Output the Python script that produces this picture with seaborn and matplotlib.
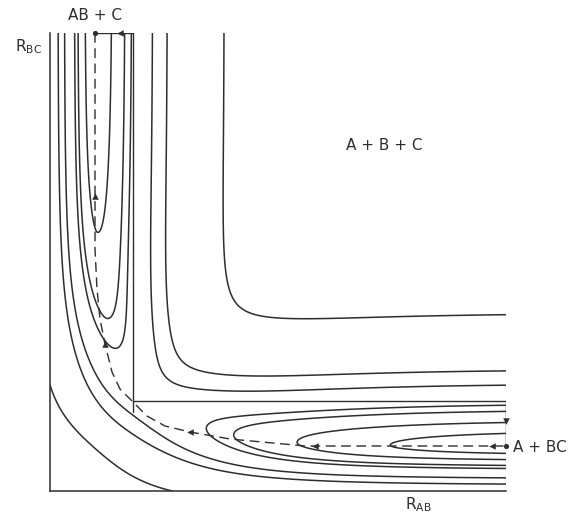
import numpy as np
import pandas as pd
import matplotlib
matplotlib.use("Agg")
import matplotlib.pyplot as plt
import seaborn as sns

# model surface, plot units (1 unit = 100 px of the original figure)
x_e, y_e = 0.45, 0.45            # AB / BC bond lengths at the valley floors
D_ab, D_bc = 0.975, 1.0          # AB + C valley is slightly shallower
a_out, w_in = 1.0, 0.66          # Morse range on the open side, width of the inner wall
W_ab, beta_ab = 0.57, 1.2        # rise of the AB + C floor towards the col
W_bc, beta_bc = 0.60, 1.0        # rise of the A + BC floor towards the col
W_core, beta_core = 0.05, 4.0
x_s, y_s = 0.83, 0.89            # col (saddle)
stretch_ab, stretch_bc = 0.38, 0.44
kappa = 2.0
wall = 0.45
coupling, coupling_core, core_size = 0.10, 0.35, 1.0

# energy of each drawn contour (bottom of A + BC valley = -1)
levels = [-0.987, -0.958, -0.917, -0.891, -0.797, -0.727, -0.479]

# reaction path (dashed)
path_rab = [0.45, 0.45, 0.47, 0.50, 0.55, 0.62, 0.70, 0.83, 0.97, 1.15, 1.40, 1.80, 2.55, 4.56]
path_rbc = [4.58, 2.42, 2.02, 1.72, 1.47, 1.19, 1.02, 0.89, 0.75, 0.65, 0.59, 0.52, 0.45, 0.45]

# the other route: A + BC -> A + B + C -> AB + C
route_rab = [4.56, 4.56, 0.83, 0.83, 0.45]
route_rbc = [0.45, 0.90, 0.90, 4.58, 4.58]
tick_rab = [0.83, 0.83]
tick_rbc = [0.90, 0.79]

arrow_left_rab = [1.40, 2.65, 4.42]
arrow_left_rbc = [0.59, 0.45, 0.45]
arrow_up_rab = [0.45, 0.55]
arrow_up_rbc = [2.95, 1.47]

rab_max, rbc_max = 4.56, 4.58


def morse(r):
    outer = (1 - np.exp(-a_out * r)) ** 2 - 1
    inner = -1 / np.cosh(np.minimum(r, 0) / w_in) ** 2
    return np.where(r >= 0, outer, inner)


def valley(u, s):
    # floor moves out by s while the repulsive wall stays where it is
    return np.where(u >= s, u - s, (u - s) * wall / (wall + s))


def stretch(t, amp, t0):
    return 2 * amp / (1 + np.exp(kappa * (t - t0)))


def rise(t, w, b, t0):
    return w * np.exp(-b * t) + W_core * np.exp(-beta_core * (t - t0))


rab = np.linspace(0, rab_max, 700)
rbc = np.linspace(0, rbc_max, 700)
X, Y = np.meshgrid(rab, rbc)
f_ab = D_ab * morse(valley(X - x_e, stretch(Y, stretch_ab, y_s))) + rise(Y, W_ab, beta_ab, y_s)
f_bc = D_bc * morse(valley(Y - y_e, stretch(X, stretch_bc, x_s))) + rise(X, W_bc, beta_bc, x_s)
c = coupling + coupling_core * np.exp(-((X + Y) / core_size) ** 2)
V = (f_ab + f_bc) / 2 - np.sqrt(((f_ab - f_bc) / 2) ** 2 + c ** 2)

sns.set_style("white")
ink = "#2e2e2e"

fig = plt.figure(figsize=(5.68, 5.15), dpi=100)
ax = fig.add_axes([50 / 568, 24 / 515, 456 / 568, 458 / 515])

ax.contour(X, Y, V, levels=sorted(levels), colors=ink, linewidths=1.1,
           linestyles="solid")

path = pd.DataFrame({"R_AB": path_rab, "R_BC": path_rbc})
sns.lineplot(data=path, x="R_AB", y="R_BC", sort=False, estimator=None,
             color=ink, linewidth=1.0, linestyle=(0, (7, 4)), ax=ax)
route = pd.DataFrame({"R_AB": route_rab, "R_BC": route_rbc})
sns.lineplot(data=route, x="R_AB", y="R_BC", sort=False, estimator=None,
             color=ink, linewidth=1.0, ax=ax)
sns.lineplot(x=tick_rab, y=tick_rbc, sort=False, estimator=None,
             color=ink, linewidth=1.0, ax=ax)

sns.scatterplot(x=arrow_left_rab, y=arrow_left_rbc, marker="<", s=22,
                color=ink, linewidth=0, ax=ax)
sns.scatterplot(x=arrow_up_rab, y=arrow_up_rbc, marker="^", s=22,
                color=ink, linewidth=0, ax=ax)
sns.scatterplot(x=[0.70], y=[rbc_max], marker="<", s=22, color=ink, linewidth=0,
                ax=ax, clip_on=False)
sns.scatterplot(x=[rab_max], y=[0.70], marker="v", s=22, color=ink, linewidth=0,
                ax=ax, clip_on=False)
sns.scatterplot(x=[0.45, rab_max], y=[rbc_max, 0.45], marker="o", s=14,
                color=ink, linewidth=0, ax=ax, clip_on=False)

ax.set_xlim(0, rab_max)
ax.set_ylim(0, rbc_max)
ax.set_xticks([])
ax.set_yticks([])
ax.set_xlabel("")
ax.set_ylabel("")
for side in ["top", "right"]:
    ax.spines[side].set_visible(False)
for side in ["left", "bottom"]:
    ax.spines[side].set_color(ink)
    ax.spines[side].set_linewidth(1.1)

txt = dict(color=ink, fontsize=11, clip_on=False)
ax.text(0.45, 4.76, "AB + C", ha="center", va="center", **txt)
ax.text(3.34, 3.46, "A + B + C", ha="center", va="center", **txt)
ax.text(4.63, 0.44, "A + BC", ha="left", va="center", **txt)
ax.text(-0.22, 4.44, r"R$_{\mathrm{BC}}$", ha="center", va="center", **txt)
ax.text(3.68, -0.14, r"R$_{\mathrm{AB}}$", ha="center", va="center", **txt)

fig.savefig("out.png", dpi=100, facecolor="white")
